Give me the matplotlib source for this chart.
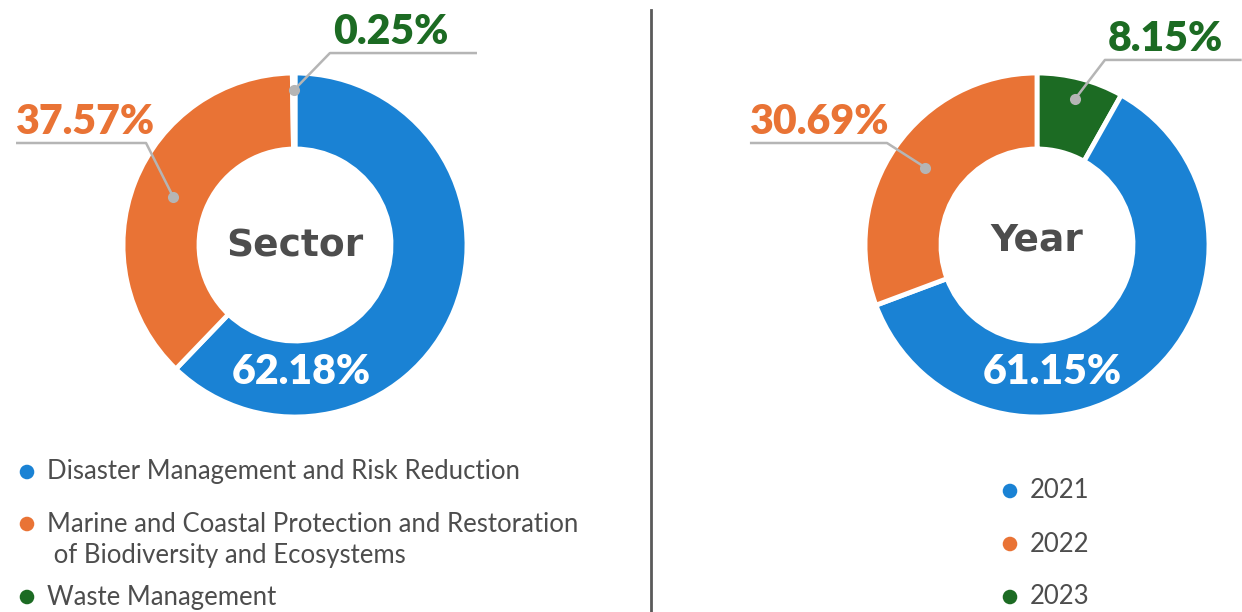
import matplotlib
matplotlib.use("Agg")
import matplotlib.pyplot as plt
import numpy as np
from matplotlib.lines import Line2D

# ---- data ----
sector_labels = ["Disaster Management and Risk Reduction",
                 "Marine and Coastal Protection and Restoration\n of Biodiversity and Ecosystems",
                 "Waste Management"]
sector_values = [62.18, 37.57, 0.25]
year_labels = ["2021", "2022", "2023"]
year_values = [61.15, 30.69, 8.15]
# order of wedges clockwise from 12 o'clock (indices into the lists above)
sector_order = [0, 1, 2]
year_order = [2, 0, 1]

BLUE, ORANGE, GREEN = "#1a82d4", "#e97335", "#1c6b23"
colors = [BLUE, ORANGE, GREEN]
TXT = "#4d4d4d"
LEAD = "#b5b5b5"

W, H = 1242, 612
S = 172.0  # px per data unit (outer radius)
fig = plt.figure(figsize=(W / 100, H / 100), dpi=100)
fig.patch.set_facecolor("white")

PCT_FONT = dict(family=["Lato", "DejaVu Sans"], fontweight="heavy", fontsize=29.5)


def donut(cx, cy, x0, x1, values, order, center_text, center_dy,
          inner_pos, ext_specs):
    ax = fig.add_axes([x0 / W, 0, (x1 - x0) / W, 1])
    vals = [values[i] for i in order]
    cols = [colors[i] for i in order]
    wedges, _ = ax.pie(vals, colors=cols, startangle=90, counterclock=False,
                       radius=1.0,
                       wedgeprops=dict(width=1 - 96 / S, edgecolor="white",
                                       linewidth=3.5))
    ax.set_aspect("auto")
    ax.set_xlim((x0 - cx) / S, (x1 - cx) / S)
    ax.set_ylim((cy - H) / S, cy / S)
    ax.axis("off")
    ax.text(0, center_dy, center_text, ha="center", va="center",
            color=TXT, fontsize=27, fontweight="bold",
            family=["DejaVu Sans"])
    # inner (white) label for the biggest wedge
    big = int(np.argmax(values))
    ax.text(inner_pos[0], inner_pos[1], f"{values[big]:.2f}%", ha="center",
            va="center", color="white", **PCT_FONT)
    # external labels
    for idx, r_dot, elbow, end_x, side in ext_specs:
        w = wedges[order.index(idx)]
        mid = np.deg2rad((w.theta1 + w.theta2) / 2)
        dx, dy = r_dot * np.cos(mid), r_dot * np.sin(mid)
        ex, ey = elbow
        ax.plot([dx, ex, end_x], [dy, ey, ey], color=LEAD, lw=1.8,
                clip_on=False, solid_capstyle="butt")
        ax.plot([dx], [dy], marker="o", ms=8, color=LEAD, mec="none",
                clip_on=False)
        tx = end_x if side == "left" else ex + 3 / S
        ax.text(tx, ey + 9 / S, f"{values[idx]:.2f}%", ha="left",
                va="baseline", color=colors[idx], clip_on=False, **PCT_FONT)
    return ax


# left donut: Sector
donut(295, 245, 0, 651, sector_values, sector_order, "Sector", -0.01,
      (0.035, -0.738),
      [(2, 0.90, (0.203, 1.116), 1.058, "right"),
       (1, 0.76, (-0.866, 0.593), -1.622, "left")])

# right donut: Year
donut(1037, 245, 651, 1242, year_values, year_order, "Year", 0.025,
      (0.087, -0.738),
      [(2, 0.88, (0.395, 1.076), 1.19, "right"),
       (1, 0.79, (-0.872, 0.593), -1.669, "left")])

# overlay axes in pixel coords for legends and divider
ov = fig.add_axes([0, 0, 1, 1], zorder=-1)
ov.set_xlim(0, W)
ov.set_ylim(H, 0)
ov.axis("off")
ov.add_line(Line2D([651, 651], [10, 612], color="#5a5a5a", lw=2))

LEG_FONT = dict(family=["Lato", "DejaVu Sans"], fontsize=18.5, color=TXT)
left_y = [472, 524, 597]
for lab, col, y in zip(sector_labels, colors, left_y):
    ov.scatter([27], [y], s=110, color=col, edgecolors="none")
    lines = lab.split("\n")
    for k, line in enumerate(lines):
        ov.text(47, y + 31 * k, line, ha="left", va="center", **LEG_FONT)

right_y = [491, 544, 597]
for lab, col, y in zip(year_labels, colors, right_y):
    ov.scatter([1010], [y], s=110, color=col, edgecolors="none")
    ov.text(1030, y, lab, ha="left", va="center", **LEG_FONT)

fig.savefig("out.png", dpi=100, facecolor="white")
